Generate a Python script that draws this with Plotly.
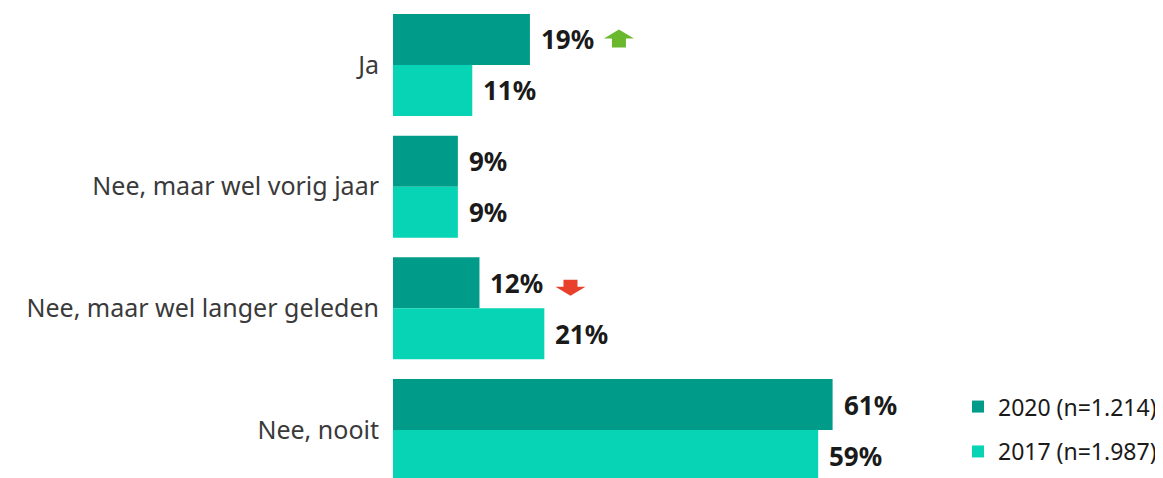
import plotly.graph_objects as go

categories = ["Ja", "Nee, maar wel vorig jaar", "Nee, maar wel langer geleden", "Nee, nooit"]
values_2020 = [19, 9, 12, 61]
values_2017 = [11, 9, 21, 59]
series_names = ["2020 (n=1.214)", "2017 (n=1.987)"]
trend = ["up", None, "down", None]  # significance arrows for 2020 vs 2017

c2020 = "#009B89"
c2017 = "#07D4B4"

fig = go.Figure()
fig.add_trace(go.Bar(y=categories, x=values_2020, name=series_names[0], orientation="h",
                     marker=dict(color=c2020, line=dict(width=0)), legendgroup="a"))
fig.add_trace(go.Bar(y=categories, x=values_2017, name=series_names[1], orientation="h",
                     marker=dict(color=c2017, line=dict(width=0)), legendgroup="b"))


def arrow_path(cx, cy, up=True, head_w=15, head_h=9, stem_w=7, stem_h=8):
    """Block arrow path in pixels relative to anchor (y positive up)."""
    s = 1 if up else -1
    tip = cy + s * head_h
    base = cy
    tail = cy - s * stem_h
    pts = [(cx, tip), (cx + head_w, base), (cx + stem_w, base), (cx + stem_w, tail),
           (cx - stem_w, tail), (cx - stem_w, base), (cx - head_w, base)]
    return "M " + " L ".join(f"{x},{y}" for x, y in pts) + " Z"


ann = []
shapes = []
off = 25.5
for cat, v20, v17, t in zip(categories, values_2020, values_2017, trend):
    for v, ys in ((v20, off), (v17, -off)):
        ann.append(dict(x=v, y=cat, text=f"<b>{v}%</b>", showarrow=False, xanchor="left",
                        yanchor="middle", xshift=9, yshift=ys,
                        font=dict(family="Noto Sans", size=26, color="#1a1a1a")))
    if t:
        up = t == "up"
        path = arrow_path(89 if up else 91, off + (1 if up else -4), up=up,
                          stem_h=9 if up else 7)
        shapes.append(dict(type="path", xref="x", yref="y", xsizemode="pixel",
                           ysizemode="pixel", xanchor=v20, yanchor=cat, path=path,
                           fillcolor="#6AB82E" if up else "#E8402B", line=dict(width=0)))

fig.update_layout(
    width=1155, height=470,
    margin=dict(l=385, r=205, t=0, b=0),
    paper_bgcolor="white", plot_bgcolor="white",
    barmode="group", bargap=0.162, bargroupgap=0,
    xaxis=dict(range=[0, 78.4], visible=False, showgrid=False, zeroline=False),
    yaxis=dict(range=[3.394, -0.468], showgrid=False, zeroline=False, showline=False,
               ticks="", ticklabelstandoff=13,
               tickfont=dict(family="Noto Sans", size=25, color="#3a3a3a")),
    legend=dict(x=1.0, xanchor="left", y=0.104, yanchor="middle", traceorder="grouped",
                tracegroupgap=12, itemwidth=30,
                font=dict(family="Noto Sans", size=23, color="#1a1a1a")),
    annotations=ann,
    shapes=shapes,
    showlegend=True,
)

fig.write_html("out.html")
